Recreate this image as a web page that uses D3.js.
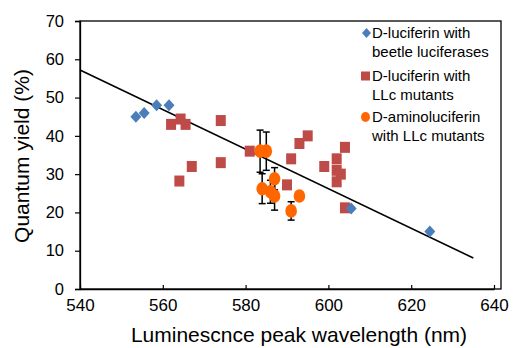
<!DOCTYPE html>
<html><head><meta charset="utf-8">
<script src="https://cdn.jsdelivr.net/npm/d3@7"></script>
<style>body{margin:0;background:#fff}svg{display:block;font-family:"Liberation Sans",Arial,sans-serif}</style>
</head><body><svg id="c" width="515" height="348"></svg>
<script>
// Data
const beetleX = [553.5, 555.5, 558.5, 561.5, 605.5, 624.5];
const beetleY = [45, 46, 48, 48, 21, 15];
const llcX = [562, 564.3, 565.5, 567, 564, 574, 574, 581, 590, 591, 593, 595, 599, 602, 602, 603, 602, 604, 604];
const llcY = [43, 44.4, 43, 32, 28.2, 44, 33, 36, 27.2, 34, 38, 40, 32, 34, 31, 30, 28, 37, 21.2];
const aminoX = [583.5, 585, 587, 584, 586, 587, 593, 591];
const aminoY = [36, 36, 28.8, 26.2, 25.4, 24.3, 24.3, 20.4];
const aminoErr = [5.5, 5, 2.9, 3.9, 3, 3.7, 0, 2.4];
const trendX = [540, 635];
const trendY = [57.2, 8.1];
const xTicks = [540, 560, 580, 600, 620, 640];
const yTicks = [0, 10, 20, 30, 40, 50, 60, 70];
const legendLabels = [["D-luciferin with", "beetle luciferases"], ["D-luciferin with", "LLc mutants"], ["D-aminoluciferin", "with LLc mutants"]];

const colBlue = "#4a7ebb", colRed = "#be4b48", colOrange = "#ff6600";
const svg = d3.select("#c");
const L = 80, R = 494, T = 21, B = 289, boxR = 501;
const x = d3.scaleLinear().domain([540, 640]).range([L, R]);
const y = d3.scaleLinear().domain([0, 70]).range([B, T]);

// plot frame
svg.append("rect").attr("x", L).attr("y", T).attr("width", boxR - L).attr("height", B - T)
  .attr("fill", "none").attr("stroke", "#000").attr("stroke-width", 1.3);

// axes
const xa = svg.append("g").attr("transform", `translate(0,${B})`)
  .call(d3.axisBottom(x).tickValues(xTicks).tickSizeInner(-4).tickSizeOuter(0).tickPadding(10));
xa.select(".domain").attr("stroke-width", 1.3);
xa.selectAll("text").attr("font-size", 17).attr("fill", "#000").attr("font-family", "Liberation Sans, Arial, sans-serif");
xa.selectAll("line").attr("stroke-width", 1.2);

const ya = svg.append("g").attr("transform", `translate(${L},0)`)
  .call(d3.axisLeft(y).tickValues(yTicks).tickSize(5).tickPadding(11));
ya.select(".domain").attr("stroke-width", 1.3);
ya.selectAll("text").attr("font-size", 16.5).attr("fill", "#000").attr("font-family", "Liberation Sans, Arial, sans-serif");
ya.selectAll("line").attr("stroke-width", 1.2);

// titles
svg.append("text").attr("x", 299).attr("y", 342).attr("text-anchor", "middle")
  .attr("font-size", 21).text("Luminescnce peak wavelength (nm)");
svg.append("text").attr("transform", "translate(29,156) rotate(-90)").attr("text-anchor", "middle")
  .attr("font-size", 21).text("Quantum yield (%)");

// trendline
svg.append("line").attr("x1", x(trendX[0])).attr("y1", y(trendY[0]))
  .attr("x2", x(trendX[1])).attr("y2", y(trendY[1])).attr("stroke", "#000").attr("stroke-width", 1.6);

// red squares
const sq = 10;
svg.append("g").selectAll("rect").data(llcX.map((v, i) => [v, llcY[i]])).join("rect")
  .attr("x", d => x(d[0]) - sq / 2).attr("y", d => y(d[1]) - sq / 2 - 0.5)
  .attr("width", sq).attr("height", sq + 1).attr("fill", colRed);

// blue diamonds
const dia = (cx, cy, w, h) => `M${cx},${cy - h}L${cx + w},${cy}L${cx},${cy + h}L${cx - w},${cy}Z`;
svg.append("g").selectAll("path").data(beetleX.map((v, i) => [v, beetleY[i]])).join("path")
  .attr("d", d => dia(x(d[0]), y(d[1]), 5.5, 6)).attr("fill", colBlue);

// error bars
const eb = svg.append("g").attr("stroke", "#000").attr("stroke-width", 1.5);
aminoX.forEach((v, i) => {
  const e = aminoErr[i]; if (!e) return;
  const cx = x(v), y1 = y(aminoY[i] + e), y2 = y(aminoY[i] - e);
  eb.append("line").attr("x1", cx).attr("x2", cx).attr("y1", y1).attr("y2", y2);
  eb.append("line").attr("x1", cx - 3.5).attr("x2", cx + 3.5).attr("y1", y1).attr("y2", y1);
  eb.append("line").attr("x1", cx - 3.5).attr("x2", cx + 3.5).attr("y1", y2).attr("y2", y2);
});

// orange circles
svg.append("g").selectAll("ellipse").data(aminoX.map((v, i) => [v, aminoY[i]])).join("ellipse")
  .attr("cx", d => x(d[0])).attr("cy", d => y(d[1])).attr("rx", 5.8).attr("ry", 6.8).attr("fill", colOrange);

// legend
const lg = svg.append("g").attr("font-size", 15);
const ly = [33, 76, 117];
ly.forEach((yy, i) => {
  if (i === 0) lg.append("path").attr("d", dia(366.5, yy, 4.5, 5)).attr("fill", colBlue);
  if (i === 1) lg.append("rect").attr("x", 361).attr("y", yy - 4.5).attr("width", 9).attr("height", 9).attr("fill", colRed);
  if (i === 2) lg.append("ellipse").attr("cx", 365.5).attr("cy", yy).attr("rx", 4.5).attr("ry", 5).attr("fill", colOrange);
  legendLabels[i].forEach((t, j) => {
    lg.append("text").attr("x", 372).attr("y", yy + 5 + j * 18.5).text(t);
  });
});
</script></body></html>
